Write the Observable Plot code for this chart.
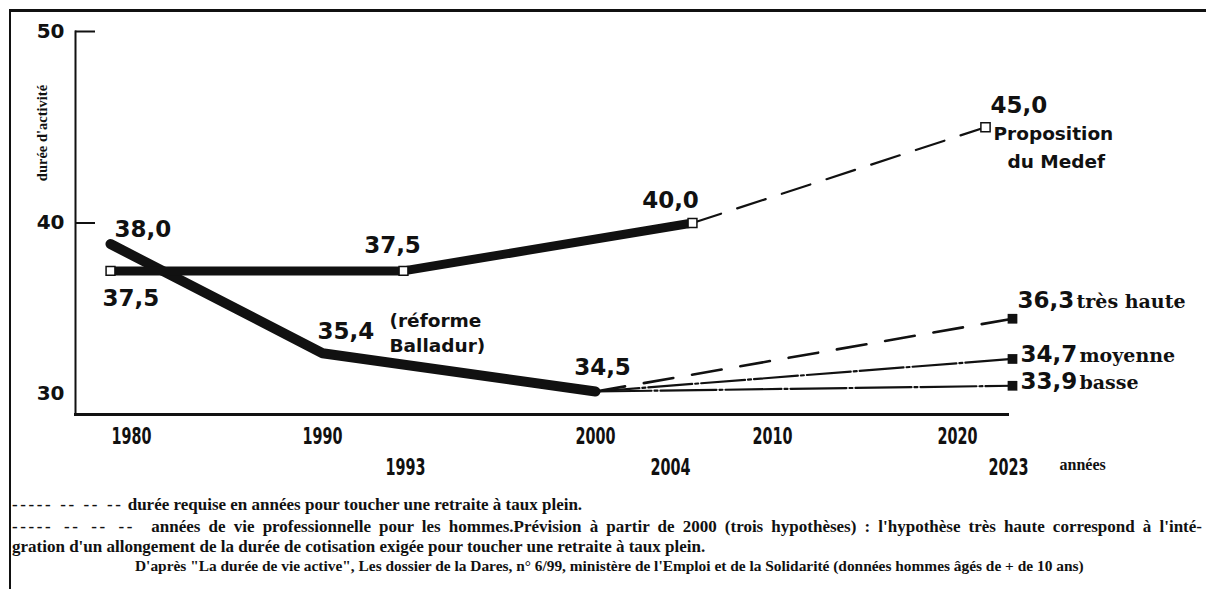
<!DOCTYPE html>
<html>
<head>
<meta charset="utf-8">
<script src="https://cdn.jsdelivr.net/npm/d3@7"></script>
<script src="https://cdn.jsdelivr.net/npm/@observablehq/plot@0.6"></script>
<style>
  body { margin: 0; background: #fff; }
  #wrap { position: relative; width: 1206px; height: 589px; overflow: hidden; background: #fff; }
  #frame { position: absolute; left: 9px; top: 9px; width: 1230px; height: 620px; border-top: 3px solid #111; border-left: 2px solid #111; }
  #chart { position: absolute; left: 0; top: 0; }
  #ytitle { position: absolute; left: 42px; top: 133px; transform: translate(-50%, -50%) rotate(-90deg); font-family: "Liberation Serif", serif; font-weight: bold; font-size: 14.5px; color: #111; white-space: nowrap; }
  .cap { position: absolute; left: 12px; font-family: "Liberation Serif", "DejaVu Serif", serif; font-weight: bold; font-size: 17px; color: #111; white-space: nowrap; line-height: 20px; }
  .dash { letter-spacing: 2.6px; }
  .just { width: 1190px; white-space: normal; text-align: justify; text-align-last: justify; }
  .src { font-size: 15.4px; left: 135px; }
</style>
</head>
<body>
<div id="wrap">
  <div id="frame"></div>
  <div id="chart"></div>
  <div id="ytitle"></div>
  <div class="cap" style="top:495px"><span class="dash">----- -- -- --</span> durée requise en années pour toucher une retraite à taux plein.</div>
  <div class="cap just" style="top:517px"><span class="dash">----- -- -- --</span>&nbsp; années de vie professionnelle pour les hommes.Prévision à partir de 2000 (trois hypothèses) : l'hypothèse très haute correspond à l'inté-</div>
  <div class="cap" style="top:537px">gration d'un allongement de la durée de cotisation exigée pour toucher une retraite à taux plein.</div>
  <div class="cap src" style="top:556px">D'après "La durée de vie active", Les dossier de la Dares, n° 6/99, ministère de l'Emploi et de la Solidarité (données hommes âgés de + de 10 ans)</div>
</div>
<script>
// ---- data ----
const upperYears = [1980, 1993, 2004];          // durée requise (trait plein)
const upperValues = [37.5, 37.5, 40.0];
const upperLabels = ["37,5", "37,5", "40,0"];
const medefYears = [2004, 2020];                 // proposition du Medef (tirets)
const medefValues = [40.0, 45.0];
const medefLabels = ["40,0", "45,0"];
const lowerYears = [1980, 1990, 2000];           // années de vie professionnelle
const lowerLabels = ["38,0", "35,4", "34,5"];
const lowerDrawn = [38.9, 33.2, 31.2];           // heights as drawn on the (not-to-scale) original
const projYears = [2000, 2023];
const hypNames = ["très haute", "moyenne", "basse"];
const hypLabels = ["36,3", "34,7", "33,9"];
const hypDrawn = [35.0, 32.9, 31.5];             // heights as drawn on the original
const yTicks = [50, 40, 30];
const xTicksTop = [1980, 1990, 2000, 2010, 2020];
const xTicksBottom = [1993, 2004, 2023];
const yTitle = "durée d'activité";
const xTitle = "années";

document.getElementById("ytitle").textContent = yTitle;

// ---- tables ----
const upper = upperYears.map((year, i) => ({year, value: upperValues[i], label: upperLabels[i]}));
const medef = medefYears.map((year, i) => ({year, value: medefValues[i], label: medefLabels[i]}));
const lower = lowerYears.map((year, i) => ({year, value: lowerDrawn[i], label: lowerLabels[i]}));
const proj = hypNames.map((name, i) => [
  {name, year: projYears[0], value: lowerDrawn[lowerDrawn.length - 1]},
  {name, year: projYears[1], value: hypDrawn[i], label: hypLabels[i]}
]);
const hypEnds = proj.map(p => p[1]);

const ink = "#111";
const num = {fill: ink, fontFamily: "DejaVu Sans, Verdana, sans-serif", fontWeight: "bold", fontSize: 23};
const note = {fill: ink, fontFamily: "DejaVu Sans, Verdana, sans-serif", fontWeight: "bold", fontSize: 18.5};
const serif = {fill: ink, fontFamily: "DejaVu Serif, serif", fontWeight: "bold", fontSize: 19};
const tickFont = {fill: ink, fontFamily: "DejaVu Sans Condensed, DejaVu Sans, sans-serif", fontWeight: "bold", fontSize: 23};

const xt = (years, dx, dy) => Plot.text(years, {x: d => d, frameAnchor: "bottom", text: d => String(d), dx, dy, ...tickFont});

const chart = Plot.plot({
  width: 1206,
  height: 490,
  marginLeft: 75,
  marginRight: 199,
  marginTop: 31,
  marginBottom: 76,
  x: {type: "linear", domain: [1980, 1990, 1993, 2000, 2004, 2010, 2020, 2023],
      range: [110, 322, 403, 595, 692, 772, 985, 1012], axis: null},
  y: {domain: [30, 50], axis: null},
  style: {background: "transparent", overflow: "visible"},
  marks: [
    // axes
    Plot.frame({anchor: "left", stroke: ink, strokeWidth: 2}),
    Plot.frame({anchor: "bottom", stroke: ink, strokeWidth: 3}),
    Plot.tickY(yTicks.filter(d => d > 30), {y: d => d, stroke: ink, strokeWidth: 2, insetRight: 912}),
    Plot.text(yTicks.filter(d => d > 30), {y: d => d, frameAnchor: "left", text: d => String(d), textAnchor: "end", dx: -11, ...num, fontSize: 20}),
    Plot.text(yTicks.filter(d => d === 30), {y: d => d, frameAnchor: "left", text: d => String(d), textAnchor: "end", dx: -11, dy: -21, ...num, fontSize: 20}),
    xt(xTicksTop.filter(d => d === 1980), 21, 29),
    xt(xTicksTop.filter(d => d > 1980 && d < 2020), 0, 29),
    xt(xTicksTop.filter(d => d === 2020), -28, 29),
    xt(xTicksBottom.filter(d => d === 1993), 2, 60),
    xt(xTicksBottom.filter(d => d === 2004), -22, 60),
    xt(xTicksBottom.filter(d => d === 2023), -4, 60),
    Plot.text([xTitle], {x: () => xTicksBottom[2], frameAnchor: "bottom", text: d => d, textAnchor: "start", dx: 47, dy: 55,
      fill: ink, fontFamily: "Liberation Serif, serif", fontWeight: "bold", fontSize: 16}),

    // projections
    Plot.line(proj[0], {x: "year", y: "value", stroke: ink, strokeWidth: 2.6, strokeDasharray: "30,19"}),
    Plot.line(proj[1], {x: "year", y: "value", stroke: ink, strokeWidth: 2.2, strokeDasharray: "44,3,3,3"}),
    Plot.line(proj[2], {x: "year", y: "value", stroke: ink, strokeWidth: 2.2, strokeDasharray: "56,3,3,3"}),
    Plot.line(medef, {x: "year", y: "value", stroke: ink, strokeWidth: 2.2, strokeDasharray: "30,17"}),

    // main thick lines
    Plot.line(lower, {x: "year", y: "value", stroke: ink, strokeWidth: 10}),
    Plot.line(upper, {x: "year", y: "value", stroke: ink, strokeWidth: 9}),

    // markers
    Plot.dot(upper, {x: "year", y: "value", symbol: "square", r: 5, fill: "white", stroke: ink, strokeWidth: 1.5}),
    Plot.dot(medef.slice(1), {x: "year", y: "value", symbol: "square", r: 5.2, fill: "white", stroke: ink, strokeWidth: 1.5}),
    Plot.dot(hypEnds, {x: "year", y: "value", symbol: "square", r: 5.5, fill: ink}),

    // value labels
    Plot.text([lower[0]], {x: "year", y: "value", text: "label", textAnchor: "start", dx: 4, dy: -14, ...num}),
    Plot.text([lower[1]], {x: "year", y: "value", text: "label", textAnchor: "start", dx: -5, dy: -22, ...num}),
    Plot.text([lower[2]], {x: "year", y: "value", text: "label", textAnchor: "middle", dx: 7, dy: -24, ...num}),
    Plot.text([upper[0]], {x: "year", y: "value", text: "label", textAnchor: "start", dx: -8, dy: 28, ...num}),
    Plot.text([upper[1]], {x: "year", y: "value", text: "label", textAnchor: "middle", dx: -11, dy: -25, ...num}),
    Plot.text([upper[2]], {x: "year", y: "value", text: "label", textAnchor: "middle", dx: -22, dy: -22, ...num}),
    Plot.text([medef[1]], {x: "year", y: "value", text: "label", textAnchor: "start", dx: 5, dy: -22, ...num}),
    Plot.text([upper[1]], {x: "year", y: "value", text: () => "(réforme\nBalladur)", textAnchor: "start", lineAnchor: "top",
      dx: -14, dy: 38, lineHeight: 1.35, ...note}),
    Plot.text([medef[1]], {x: "year", y: "value", text: () => "Proposition", textAnchor: "start", dx: 8, dy: 7, ...note}),
    Plot.text([medef[1]], {x: "year", y: "value", text: () => "du Medef", textAnchor: "start", dx: 22, dy: 35, ...note}),

    // hypotheses labels
    Plot.text(hypEnds.slice(0, 1), {x: "year", y: "value", text: "label", textAnchor: "start", dx: 5, dy: -18, ...num}),
    Plot.text(hypEnds.slice(0, 1), {x: "year", y: "value", text: "name", textAnchor: "start", dx: 64, dy: -17, ...serif}),
    Plot.text(hypEnds.slice(1), {x: "year", y: "value", text: "label", textAnchor: "start", dx: 8, dy: -4, ...num}),
    Plot.text(hypEnds.slice(1), {x: "year", y: "value", text: "name", textAnchor: "start", dx: 67, dy: -3, ...serif})
  ]
});
// condensed look of the year labels
d3.select(chart).selectAll("text")
  .filter(function () { return /^\d{4}$/.test(this.textContent); })
  .attr("textLength", 40).attr("lengthAdjust", "spacingAndGlyphs");
document.getElementById("chart").appendChild(chart);
</script>
</body>
</html>
